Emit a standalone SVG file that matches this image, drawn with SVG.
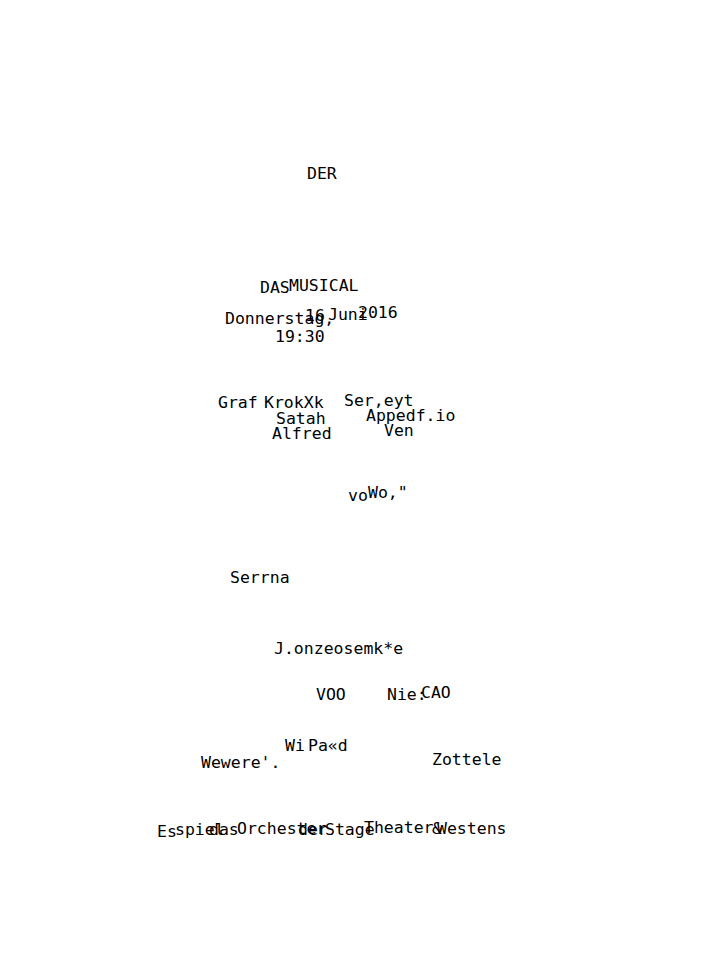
<svg xmlns="http://www.w3.org/2000/svg" width="720" height="960" viewBox="0 0 720 960">
<style>
text{font-family:"DejaVu Sans Mono","Liberation Mono",monospace;font-size:16.5px;fill:#000}
</style>
<rect width="720" height="960" fill="#fff"/>
<text x="307" y="179">DER</text>
<text x="260" y="293">DAS</text>
<text x="289" y="291">MUSICAL</text>
<text x="225" y="324">Donnerstag,</text>
<text x="305" y="321">16</text>
<text x="328" y="320">Juni</text>
<text x="358" y="318">2016</text>
<text x="275" y="342">19:30</text>
<text x="218" y="408">Graf</text>
<text x="264" y="408">KrokXk</text>
<text x="276" y="424">Satah</text>
<text x="272" y="439">Alfred</text>
<text x="344" y="406">Ser,eyt</text>
<text x="366" y="421">Appedf.io</text>
<text x="384" y="436">Ven</text>
<text x="348" y="501">vo</text>
<text x="368" y="498">Wo,"</text>
<text x="230" y="583">Serrna</text>
<text x="274" y="654">J.onzeosemk*e</text>
<text x="316" y="700">VOO</text>
<text x="387" y="700">Nie:</text>
<text x="421" y="698">CAO</text>
<text x="285" y="751">Wi</text>
<text x="308" y="751">Pa«d</text>
<text x="201" y="768">Wewere'.</text>
<text x="432" y="765">Zottele</text>
<text x="157" y="837">Es</text>
<text x="175" y="835">spiel</text>
<text x="209" y="835">das</text>
<text x="237" y="834">Orchester</text>
<text x="298" y="835">der</text>
<text x="325" y="835">Stage</text>
<text x="364" y="833">Theater</text>
<text x="432" y="834">&amp;</text>
<text x="437" y="834">Westens</text>
</svg>
